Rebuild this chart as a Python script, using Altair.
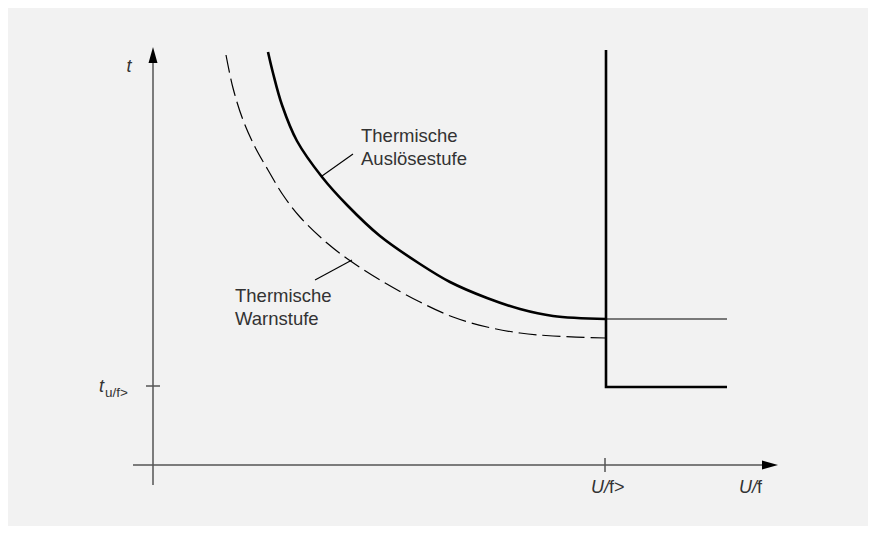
import altair as alt
import pandas as pd

# --- data (in picture units) ---
trip_x = [268, 273, 282, 297, 322, 347, 380, 420, 450, 487, 520, 553, 606]
trip_y = [52, 73, 105, 141, 177, 205, 236, 264, 282, 298, 309, 316, 319]

warn_x = [226, 233, 243, 255, 268, 283, 300, 327, 352, 380, 420, 453, 487, 520, 553, 606]
warn_y = [55, 88, 120, 147, 170, 195, 217, 243, 262, 280, 302, 317, 327, 333, 336, 338]

step_x = [606, 606, 727]
step_y = [50, 387, 387]

thin_x = [606, 727]
thin_y = [319, 319]

leader_x = [353, 352]
leader_y = [154, 260]
leader_x2 = [322, 315]
leader_y2 = [176, 280]

ann_text = ["Thermische", "Auslösestufe", "Thermische", "Warnstufe"]
ann_x = [361, 361, 235, 235]
ann_y = [142, 165, 302, 325]

W, H = 860, 518
X0, Y0 = 8, 8

xs = alt.Scale(domain=[X0, X0 + W], nice=False, zero=False)
ys = alt.Scale(domain=[Y0, Y0 + H], nice=False, zero=False, reverse=True)


def X(f="x"):
    return alt.X(f"{f}:Q", scale=xs, axis=None)


def Y(f="y"):
    return alt.Y(f"{f}:Q", scale=ys, axis=None)


trip = pd.DataFrame({"x": trip_x, "y": trip_y, "o": range(len(trip_x))})
warn = pd.DataFrame({"x": warn_x, "y": warn_y, "o": range(len(warn_x))})
step = pd.DataFrame({"x": step_x, "y": step_y, "o": range(len(step_x))})
thin = pd.DataFrame({"x": thin_x, "y": thin_y, "o": range(len(thin_x))})
leaders = pd.DataFrame({"x": leader_x, "y": leader_y, "x2": leader_x2, "y2": leader_y2})
ann = pd.DataFrame({"x": ann_x, "y": ann_y, "t": ann_text})

axes = pd.DataFrame({
    "x": [153, 133, 146, 605],
    "y": [62, 465, 386, 458],
    "x2": [153, 763, 160, 605],
    "y2": [485, 465, 386, 472],
})
arrow_up = pd.DataFrame({"x": [153], "y": [55]})
arrow_right = pd.DataFrame({"x": [770], "y": [465]})

FONT = "Liberation Sans"
AX = "#555555"

axis_rules = alt.Chart(axes).mark_rule(color=AX, strokeWidth=1.5).encode(
    x=X(), y=Y(), x2="x2:Q", y2="y2:Q")
up = alt.Chart(arrow_up).mark_point(
    shape="M0,-1L0.56,1L-0.56,1Z", filled=True, color="#000000", size=256, opacity=1
).encode(x=X(), y=Y())
right = alt.Chart(arrow_right).mark_point(
    shape="M1,0L-1,0.56L-1,-0.56Z", filled=True, color="#000000", size=256, opacity=1
).encode(x=X(), y=Y())

trip_line = alt.Chart(trip).mark_line(color="#000000", strokeWidth=2.6, interpolate="catmull-rom").encode(
    x=X(), y=Y(), order="o:O")
warn_line = alt.Chart(warn).mark_line(color="#000000", strokeWidth=1.2, strokeDash=[18, 6],
                                      interpolate="catmull-rom").encode(x=X(), y=Y(), order="o:O")
step_line = alt.Chart(step).mark_line(color="#000000", strokeWidth=2.6, strokeJoin="miter").encode(
    x=X(), y=Y(), order="o:O")
thin_line = alt.Chart(thin).mark_line(color="#000000", strokeWidth=1.2).encode(
    x=X(), y=Y(), order="o:O")
leader_rules = alt.Chart(leaders).mark_rule(color="#000000", strokeWidth=1.1).encode(
    x=X(), y=Y(), x2="x2:Q", y2="y2:Q")

ann_text_m = alt.Chart(ann).mark_text(font=FONT, fontSize=18.5, color="#333333", align="left",
                                      baseline="alphabetic").encode(x=X(), y=Y(), text="t:N")


def label(x, y, s, size=18, style="normal", align="left"):
    d = pd.DataFrame({"x": [x], "y": [y], "t": [s]})
    return alt.Chart(d).mark_text(font=FONT, fontSize=size, fontStyle=style, color="#333333",
                                  align=align, baseline="alphabetic").encode(x=X(), y=Y(), text="t:N")


labels = [
    label(129, 72, "t", style="italic", align="center"),
    label(99, 392, "t", style="italic"),
    label(105, 397, "u/f>", size=13.5),
    label(609, 493, "U/", style="italic", align="right"),
    label(609, 493, "f>"),
    label(757, 493, "U/", style="italic", align="right"),
    label(757, 493, "f"),
]

chart = alt.layer(
    axis_rules, up, right, warn_line, trip_line, step_line, thin_line, leader_rules, ann_text_m, *labels
).properties(
    width=W, height=H, background="#f2f2f2", padding=0,
).configure_view(stroke=None)

chart.save("out.html", embed_options={"renderer": "svg", "actions": False})
